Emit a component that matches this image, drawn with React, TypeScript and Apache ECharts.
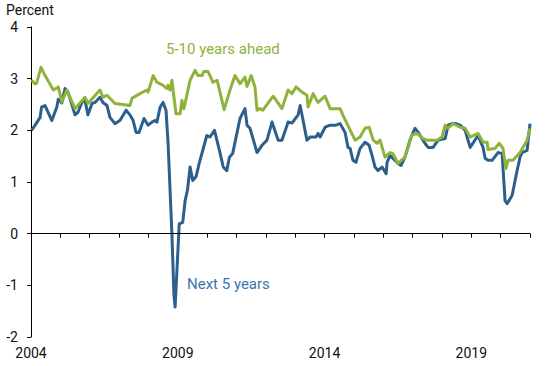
import React, { useEffect, useRef } from "react";
import * as echarts from "echarts";

// [decimal year, percent]
const nextFiveYears: [number, number][] = [
  [2004.02, 2.0], [2004.14, 2.1], [2004.31, 2.25], [2004.36, 2.45], [2004.48, 2.48],
  [2004.71, 2.19], [2004.88, 2.45], [2004.93, 2.6], [2005.05, 2.53], [2005.16, 2.81],
  [2005.26, 2.74], [2005.5, 2.3], [2005.6, 2.35], [2005.74, 2.55], [2005.84, 2.58],
  [2005.94, 2.3], [2006.08, 2.52], [2006.18, 2.54], [2006.35, 2.64], [2006.45, 2.54],
  [2006.59, 2.48], [2006.69, 2.25], [2006.86, 2.13], [2007.03, 2.19], [2007.24, 2.39],
  [2007.37, 2.3], [2007.48, 2.19], [2007.58, 1.96], [2007.68, 1.96], [2007.85, 2.23],
  [2007.99, 2.1], [2008.12, 2.16], [2008.22, 2.19], [2008.29, 2.16], [2008.4, 2.45],
  [2008.5, 2.54], [2008.6, 2.39], [2008.67, 1.75], [2008.8, 0.0], [2008.87, -1.19],
  [2008.91, -1.42], [2009.05, 0.19], [2009.17, 0.22], [2009.25, 0.64], [2009.33, 0.84],
  [2009.42, 1.29], [2009.51, 1.03], [2009.62, 1.1], [2009.73, 1.36], [2009.85, 1.61],
  [2009.99, 1.9], [2010.1, 1.87], [2010.25, 2.0], [2010.42, 1.61], [2010.55, 1.29],
  [2010.67, 1.22], [2010.76, 1.48], [2010.87, 1.55], [2011.12, 2.23], [2011.29, 2.42],
  [2011.36, 2.1], [2011.46, 2.04], [2011.63, 1.71], [2011.7, 1.57], [2011.87, 1.71],
  [2012.04, 1.81], [2012.21, 2.16], [2012.42, 1.81], [2012.55, 1.81], [2012.76, 2.16],
  [2012.89, 2.14], [2013.1, 2.3], [2013.17, 2.48], [2013.4, 1.81], [2013.51, 1.87],
  [2013.71, 1.87], [2013.78, 1.94], [2013.85, 1.87], [2014.02, 2.06], [2014.19, 2.1],
  [2014.39, 2.1], [2014.53, 2.13], [2014.7, 1.96], [2014.8, 1.67], [2014.87, 1.65],
  [2014.97, 1.42], [2015.07, 1.38], [2015.21, 1.65], [2015.38, 1.77], [2015.52, 1.71],
  [2015.62, 1.51], [2015.72, 1.29], [2015.82, 1.22], [2015.96, 1.29], [2016.1, 1.16],
  [2016.13, 1.38], [2016.23, 1.51], [2016.4, 1.42], [2016.5, 1.36], [2016.61, 1.32],
  [2016.74, 1.48], [2016.91, 1.81], [2017.08, 2.04], [2017.19, 1.96], [2017.42, 1.75],
  [2017.53, 1.67], [2017.7, 1.67], [2017.87, 1.81], [2018.11, 1.84], [2018.21, 2.1],
  [2018.35, 2.13], [2018.48, 2.13], [2018.62, 2.1], [2018.79, 2.0], [2018.96, 1.67],
  [2019.23, 1.9], [2019.4, 1.67], [2019.47, 1.46], [2019.57, 1.42], [2019.71, 1.42],
  [2019.91, 1.57], [2020.05, 1.55], [2020.15, 0.64], [2020.22, 0.58], [2020.39, 0.74],
  [2020.56, 1.22], [2020.66, 1.48], [2020.73, 1.57], [2020.9, 1.61], [2021.0, 2.13],
];

const fiveToTenYears: [number, number][] = [
  [2004.02, 2.97], [2004.14, 2.9], [2004.19, 2.91], [2004.34, 3.22], [2004.48, 3.06],
  [2004.76, 2.78], [2004.93, 2.84], [2005.05, 2.55], [2005.22, 2.78], [2005.5, 2.42],
  [2005.84, 2.64], [2005.94, 2.52], [2006.35, 2.78], [2006.45, 2.64], [2006.59, 2.68],
  [2006.86, 2.52], [2007.37, 2.48], [2007.44, 2.62], [2007.71, 2.71], [2007.95, 2.78],
  [2007.99, 2.74], [2008.16, 3.06], [2008.29, 2.93], [2008.5, 2.87], [2008.63, 2.81],
  [2008.67, 2.87], [2008.74, 2.78], [2008.8, 2.97], [2008.94, 2.32], [2009.08, 2.32],
  [2009.14, 2.58], [2009.21, 2.42], [2009.42, 2.97], [2009.59, 3.16], [2009.69, 3.06],
  [2009.83, 3.06], [2009.89, 3.14], [2010.03, 3.14], [2010.2, 2.93], [2010.34, 2.97],
  [2010.58, 2.4], [2010.78, 2.78], [2010.95, 3.06], [2011.12, 2.9], [2011.29, 3.03],
  [2011.36, 2.85], [2011.5, 3.06], [2011.63, 2.84], [2011.7, 2.39], [2011.8, 2.42],
  [2011.9, 2.39], [2012.25, 2.66], [2012.55, 2.42], [2012.76, 2.78], [2012.89, 2.71],
  [2013.03, 2.84], [2013.23, 2.74], [2013.4, 2.68], [2013.44, 2.45], [2013.61, 2.71],
  [2013.78, 2.54], [2014.02, 2.66], [2014.19, 2.42], [2014.53, 2.42], [2014.63, 2.29],
  [2015.04, 1.81], [2015.21, 1.87], [2015.38, 2.04], [2015.52, 2.06], [2015.66, 1.81],
  [2015.79, 1.75], [2015.89, 1.81], [2016.06, 1.48], [2016.23, 1.57], [2016.33, 1.55],
  [2016.5, 1.36], [2016.74, 1.48], [2016.98, 1.91], [2017.15, 1.94], [2017.36, 1.84],
  [2017.49, 1.81], [2017.83, 1.81], [2018.0, 1.87], [2018.11, 2.1], [2018.21, 2.04],
  [2018.38, 2.13], [2018.62, 2.06], [2018.79, 2.04], [2018.96, 1.87], [2019.23, 1.94],
  [2019.4, 1.77], [2019.54, 1.77], [2019.57, 1.63], [2019.81, 1.65], [2019.95, 1.75],
  [2020.08, 1.65], [2020.18, 1.26], [2020.25, 1.42], [2020.42, 1.42], [2020.66, 1.57],
  [2020.9, 1.81], [2021.0, 2.04],
];

const yearLabels = [2004, 2009, 2014, 2019];

const BLUE = "#2d5f8d";
const GREEN = "#8db33c";

export default function App() {
  const ref = useRef<HTMLDivElement>(null);
  useEffect(() => {
    if (!ref.current) return;
    const chart = echarts.init(ref.current, null, { renderer: "svg" });
    chart.setOption({
      animation: false,
      textStyle: { fontFamily: "Roboto" },
      grid: { left: 31, right: 20, top: 27, bottom: 29 },
      xAxis: {
        type: "value",
        min: 2004,
        max: 2021,
        interval: 1,
        axisLine: { show: true, lineStyle: { color: "#000", width: 1 } },
        axisTick: { show: true, length: 4, lineStyle: { color: "#000" } },
        splitLine: { show: false },
        axisLabel: {
          color: "#111",
          fontSize: 14,
          margin: 9,
          formatter: (v: number) => (yearLabels.includes(Math.round(v)) ? String(Math.round(v)) : ""),
        },
      },
      yAxis: {
        type: "value",
        min: -2,
        max: 4,
        interval: 1,
        axisLine: { show: true, lineStyle: { color: "#000", width: 1 } },
        axisTick: { show: true, length: 4, lineStyle: { color: "#000" } },
        splitLine: { show: false },
        axisLabel: { color: "#111", fontSize: 14, margin: 13 },
      },
      graphic: [
        {
          type: "text",
          left: 6,
          top: 3,
          style: { text: "Percent", fill: "#111", font: "14px Roboto" },
        },
        {
          type: "text",
          left: 166,
          top: 41,
          style: { text: "5-10 years ahead", fill: GREEN, font: "15px Roboto" },
        },
        {
          type: "text",
          left: 187,
          top: 276,
          style: { text: "Next 5 years", fill: "#3b74ad", font: "15px Roboto" },
        },
      ],
      series: [
        {
          name: "Next 5 years",
          type: "line",
          data: nextFiveYears,
          showSymbol: false,
          symbol: "none",
          lineStyle: { color: BLUE, width: 3, join: "round" },
          z: 3,
          markLine: {
            silent: true,
            symbol: "none",
            label: { show: false },
            lineStyle: { color: "#000", width: 1, type: "solid" },
            data: [{ yAxis: 0 }],
          },
        },
        {
          name: "5-10 years ahead",
          type: "line",
          data: fiveToTenYears,
          showSymbol: false,
          symbol: "none",
          lineStyle: { color: GREEN, width: 3, join: "round" },
          z: 4,
        },
      ],
    });
    return () => chart.dispose();
  }, []);
  return <div ref={ref} style={{ width: 550, height: 366, position: "absolute", left: 0, top: 0 }} />;
}
